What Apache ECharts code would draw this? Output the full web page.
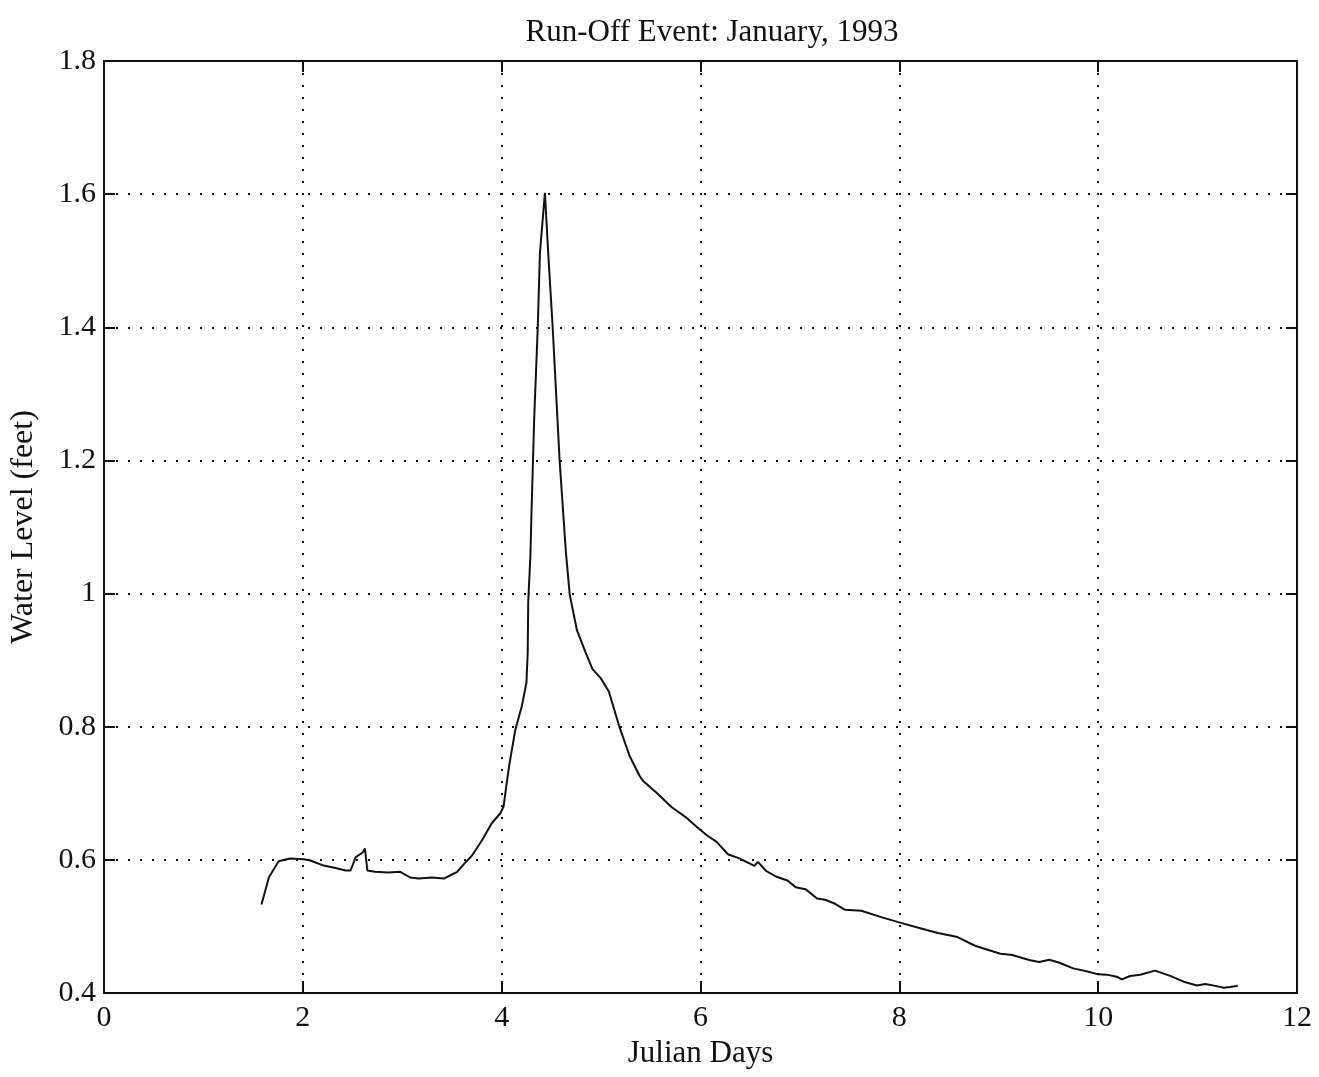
<!DOCTYPE html>
<html>
<head>
<meta charset="utf-8">
<script src="https://cdn.jsdelivr.net/npm/echarts@6/dist/echarts.min.js"></script>
<style>
html,body{margin:0;padding:0;background:#fff;}
#chart{width:1319px;height:1077px;}
</style>
</head>
<body>
<div id="chart"></div>
<script>
// Julian day (x) and water level in feet (y)
var days = [1.584,1.659,1.757,1.871,2.010,2.075,2.197,2.317,2.432,2.480,2.532,2.602,2.625,2.649,2.725,2.860,2.979,3.081,3.166,3.298,3.420,3.552,3.622,3.702,3.801,3.900,3.987,4.019,4.046,4.079,4.137,4.203,4.249,4.262,4.267,4.290,4.298,4.327,4.363,4.385,4.435,4.468,4.513,4.582,4.646,4.685,4.757,4.843,4.912,4.996,5.078,5.182,5.287,5.388,5.426,5.550,5.711,5.862,5.963,6.063,6.162,6.279,6.379,6.543,6.577,6.659,6.759,6.874,6.957,7.056,7.173,7.255,7.354,7.454,7.618,7.817,7.981,8.219,8.388,8.575,8.762,8.864,9.017,9.136,9.306,9.407,9.509,9.611,9.748,9.883,10.002,10.086,10.187,10.238,10.321,10.422,10.572,10.724,10.860,10.994,11.078,11.178,11.263,11.329,11.404];
var level = [0.533,0.574,0.598,0.602,0.601,0.599,0.592,0.588,0.584,0.584,0.604,0.611,0.617,0.584,0.582,0.581,0.582,0.5735,0.572,0.5735,0.572,0.582,0.594,0.6065,0.629,0.655,0.670,0.680,0.7105,0.745,0.795,0.831,0.866,0.911,0.986,1.061,1.111,1.262,1.400,1.512,1.602,1.512,1.400,1.202,1.062,0.998,0.945,0.912,0.887,0.873,0.853,0.801,0.756,0.726,0.718,0.702,0.679,0.663,0.6495,0.637,0.627,0.608,0.603,0.591,0.597,0.5836,0.575,0.569,0.559,0.556,0.542,0.540,0.534,0.525,0.5235,0.514,0.5068,0.497,0.490,0.4846,0.471,0.466,0.459,0.457,0.4497,0.4466,0.450,0.4455,0.437,0.4326,0.428,0.4276,0.4244,0.4204,0.4255,0.4273,0.4336,0.4257,0.417,0.4113,0.4134,0.4107,0.408,0.409,0.411];
var xTicks = [0,2,4,6,8,10,12];
var yTicks = [0.4,0.6,0.8,1,1.2,1.4,1.6,1.8];
var titleText = 'Run-Off Event: January, 1993';
var xName = 'Julian Days';
var yName = 'Water Level (feet)';

var points = days.map(function(d, i){ return [d, level[i]]; });
var ink = '#111';
var font = 'Liberation Serif, Times New Roman, serif';
var dotted = {color: ink, width: 2, type: [2, 10]};

var chart = echarts.init(document.getElementById('chart'), null, {renderer: 'canvas'});
chart.setOption({
  backgroundColor: '#fff',
  animation: false,
  title: {
    text: titleText,
    left: 707, top: 12,
    textAlign: 'center',
    textStyle: {fontFamily: font, fontSize: 31, fontWeight: 'normal', color: ink}
  },
  grid: {left: 104, right: 22, top: 61, bottom: 84, containLabel: false},
  xAxis: [{
    type: 'value', min: xTicks[0], max: xTicks[xTicks.length-1], interval: 2,
    position: 'bottom',
    name: xName, nameLocation: 'middle', nameGap: 42,
    nameTextStyle: {fontFamily: font, fontSize: 31, color: ink},
    axisLine: {show: true, onZero: false, lineStyle: {color: ink, width: 2}},
    axisTick: {show: true, inside: true, length: 12, lineStyle: {color: ink, width: 2}},
    axisLabel: {fontFamily: font, fontSize: 30, color: ink, margin: 10},
    splitLine: {show: true, lineStyle: dotted}
  }, {
    type: 'value', min: xTicks[0], max: xTicks[xTicks.length-1], interval: 2,
    position: 'top',
    axisLine: {show: true, onZero: false, lineStyle: {color: ink, width: 2}},
    axisTick: {show: true, inside: true, length: 11, lineStyle: {color: ink, width: 2}},
    axisLabel: {show: false},
    splitLine: {show: false}
  }],
  yAxis: [{
    type: 'value', min: yTicks[0], max: yTicks[yTicks.length-1], interval: 0.2,
    position: 'left',
    name: yName, nameLocation: 'middle', nameGap: 64, nameRotate: 90,
    nameTextStyle: {fontFamily: font, fontSize: 32, color: ink},
    axisLine: {show: true, onZero: false, lineStyle: {color: ink, width: 2}},
    axisTick: {show: true, inside: true, length: 11, lineStyle: {color: ink, width: 2}},
    axisLabel: {fontFamily: font, fontSize: 30, color: ink, margin: 8,
      formatter: function(v){ return String(Math.round(v*10)/10); }},
    splitLine: {show: true, lineStyle: dotted}
  }, {
    type: 'value', min: yTicks[0], max: yTicks[yTicks.length-1], interval: 0.2,
    position: 'right',
    axisLine: {show: true, onZero: false, lineStyle: {color: ink, width: 2}},
    axisTick: {show: true, inside: true, length: 11, lineStyle: {color: ink, width: 2}},
    axisLabel: {show: false},
    splitLine: {show: false}
  }],
  series: [{
    type: 'line',
    xAxisIndex: 0, yAxisIndex: 0,
    data: points,
    showSymbol: false,
    symbol: 'none',
    smooth: false,
    lineStyle: {color: ink, width: 2},
    z: 5
  }]
});
</script>
</body>
</html>
